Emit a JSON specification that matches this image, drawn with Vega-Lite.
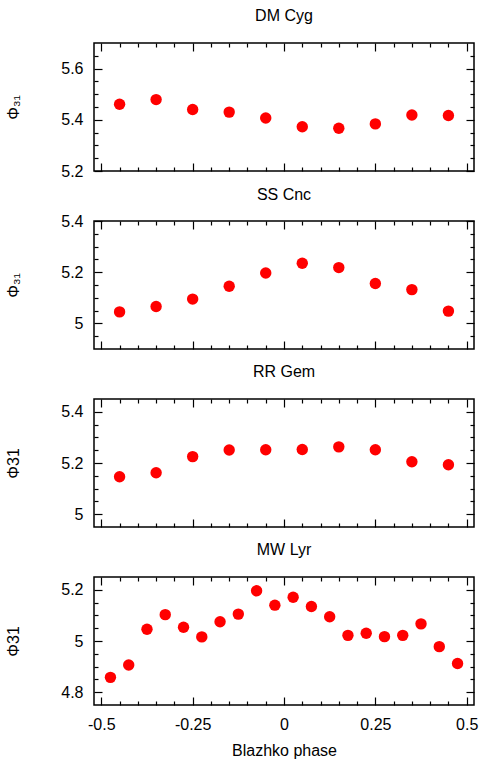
{
  "$schema": "https://vega.github.io/schema/vega-lite/v6.json",
  "background": "white",
  "padding": {"left": 5, "top": 7, "right": 9, "bottom": 2},
  "spacing": 50,
  "bounds": "flush",
  "config": {
    "font": "Liberation Sans",
    "view": {"stroke": "black", "strokeWidth": 1.5},
    "axis": {"domain": false, "grid": false, "labelFontSize": 16, "labelColor": "black", "titleFontSize": 16, "titleFontWeight": "normal", "titleColor": "black", "tickColor": "black", "tickWidth": 1.2, "labelFont": "Liberation Sans", "titleFont": "Liberation Sans"},
    "title": {"fontSize": 16, "fontWeight": "normal", "color": "black", "anchor": "middle", "offset": 18, "font": "Liberation Sans"}
  },
  "data": {"values": [
    {"star": "DM Cyg", "phase": -0.45, "phi31": 5.461},
    {"star": "DM Cyg", "phase": -0.35, "phi31": 5.479},
    {"star": "DM Cyg", "phase": -0.25, "phi31": 5.440},
    {"star": "DM Cyg", "phase": -0.15, "phi31": 5.430},
    {"star": "DM Cyg", "phase": -0.05, "phi31": 5.407},
    {"star": "DM Cyg", "phase": 0.05, "phi31": 5.373},
    {"star": "DM Cyg", "phase": 0.15, "phi31": 5.367},
    {"star": "DM Cyg", "phase": 0.25, "phi31": 5.384},
    {"star": "DM Cyg", "phase": 0.35, "phi31": 5.419},
    {"star": "DM Cyg", "phase": 0.45, "phi31": 5.417},
    {"star": "SS Cnc", "phase": -0.45, "phi31": 5.045},
    {"star": "SS Cnc", "phase": -0.35, "phi31": 5.066},
    {"star": "SS Cnc", "phase": -0.25, "phi31": 5.095},
    {"star": "SS Cnc", "phase": -0.15, "phi31": 5.145},
    {"star": "SS Cnc", "phase": -0.05, "phi31": 5.197},
    {"star": "SS Cnc", "phase": 0.05, "phi31": 5.235},
    {"star": "SS Cnc", "phase": 0.15, "phi31": 5.218},
    {"star": "SS Cnc", "phase": 0.25, "phi31": 5.156},
    {"star": "SS Cnc", "phase": 0.35, "phi31": 5.132},
    {"star": "SS Cnc", "phase": 0.45, "phi31": 5.048},
    {"star": "RR Gem", "phase": -0.45, "phi31": 5.146},
    {"star": "RR Gem", "phase": -0.35, "phi31": 5.162},
    {"star": "RR Gem", "phase": -0.25, "phi31": 5.225},
    {"star": "RR Gem", "phase": -0.15, "phi31": 5.251},
    {"star": "RR Gem", "phase": -0.05, "phi31": 5.252},
    {"star": "RR Gem", "phase": 0.05, "phi31": 5.253},
    {"star": "RR Gem", "phase": 0.15, "phi31": 5.263},
    {"star": "RR Gem", "phase": 0.25, "phi31": 5.252},
    {"star": "RR Gem", "phase": 0.35, "phi31": 5.205},
    {"star": "RR Gem", "phase": 0.45, "phi31": 5.193},
    {"star": "MW Lyr", "phase": -0.475, "phi31": 4.858},
    {"star": "MW Lyr", "phase": -0.425, "phi31": 4.906},
    {"star": "MW Lyr", "phase": -0.375, "phi31": 5.046},
    {"star": "MW Lyr", "phase": -0.325, "phi31": 5.103},
    {"star": "MW Lyr", "phase": -0.275, "phi31": 5.054},
    {"star": "MW Lyr", "phase": -0.225, "phi31": 5.016},
    {"star": "MW Lyr", "phase": -0.175, "phi31": 5.075},
    {"star": "MW Lyr", "phase": -0.125, "phi31": 5.105},
    {"star": "MW Lyr", "phase": -0.075, "phi31": 5.196},
    {"star": "MW Lyr", "phase": -0.025, "phi31": 5.140},
    {"star": "MW Lyr", "phase": 0.025, "phi31": 5.171},
    {"star": "MW Lyr", "phase": 0.075, "phi31": 5.135},
    {"star": "MW Lyr", "phase": 0.125, "phi31": 5.095},
    {"star": "MW Lyr", "phase": 0.175, "phi31": 5.022},
    {"star": "MW Lyr", "phase": 0.225, "phi31": 5.030},
    {"star": "MW Lyr", "phase": 0.275, "phi31": 5.017},
    {"star": "MW Lyr", "phase": 0.325, "phi31": 5.022},
    {"star": "MW Lyr", "phase": 0.375, "phi31": 5.067},
    {"star": "MW Lyr", "phase": 0.425, "phi31": 4.978},
    {"star": "MW Lyr", "phase": 0.475, "phi31": 4.912}
  ]},
  "vconcat": [
    {
      "title": "DM Cyg",
      "width": 380, "height": 128,
      "transform": [{"filter": "datum.star === 'DM Cyg'"}],
      "resolve": {"axis": {"x": "independent", "y": "independent"}},
      "layer": [
        {"mark": {"type": "point", "filled": true, "size": 130, "color": "#ff0000", "opacity": 1},
         "encoding": {
           "x": {"field": "phase", "type": "quantitative", "scale": {"domain": [-0.52, 0.52], "nice": false, "zero": false}, "axis": {"orient": "bottom", "values": [-0.5, -0.25, 0, 0.25, 0.5], "tickSize": -8, "labels": false, "title": null}},
           "y": {"field": "phi31", "type": "quantitative", "scale": {"domain": [5.2, 5.7], "nice": false, "zero": false}, "axis": {"orient": "left", "values": [5.2, 5.4, 5.6], "tickSize": -8, "format": "~g", "labelPadding": 19, "title": "Φ₃₁", "titlePadding": 39}}
         }},
        {"mark": {"type": "point", "opacity": 0},
         "encoding": {
           "x": {"field": "phase", "type": "quantitative", "scale": {"domain": [-0.52, 0.52], "nice": false, "zero": false}, "axis": {"orient": "bottom", "values": [-0.45, -0.4, -0.35, -0.3, -0.2, -0.15, -0.1, -0.05, 0.05, 0.1, 0.15, 0.2, 0.3, 0.35, 0.4, 0.45], "tickSize": -4, "labels": false, "title": null}},
           "y": {"field": "phi31", "type": "quantitative", "scale": {"domain": [5.2, 5.7], "nice": false, "zero": false}, "axis": {"orient": "left", "values": [5.25, 5.3, 5.35, 5.45, 5.5, 5.55, 5.65], "tickSize": -4, "labels": false, "title": null}}
         }},
        {"mark": {"type": "point", "opacity": 0},
         "encoding": {
           "x": {"field": "phase", "type": "quantitative", "scale": {"domain": [-0.52, 0.52], "nice": false, "zero": false}, "axis": {"orient": "top", "values": [-0.5, -0.25, 0, 0.25, 0.5], "tickSize": -8, "labels": false, "title": null}},
           "y": {"field": "phi31", "type": "quantitative", "scale": {"domain": [5.2, 5.7], "nice": false, "zero": false}, "axis": {"orient": "right", "values": [5.2, 5.4, 5.6], "tickSize": -8, "labels": false, "title": null}}
         }},
        {"mark": {"type": "point", "opacity": 0},
         "encoding": {
           "x": {"field": "phase", "type": "quantitative", "scale": {"domain": [-0.52, 0.52], "nice": false, "zero": false}, "axis": {"orient": "top", "values": [-0.45, -0.4, -0.35, -0.3, -0.2, -0.15, -0.1, -0.05, 0.05, 0.1, 0.15, 0.2, 0.3, 0.35, 0.4, 0.45], "tickSize": -4, "labels": false, "title": null}},
           "y": {"field": "phi31", "type": "quantitative", "scale": {"domain": [5.2, 5.7], "nice": false, "zero": false}, "axis": {"orient": "right", "values": [5.25, 5.3, 5.35, 5.45, 5.5, 5.55, 5.65], "tickSize": -4, "labels": false, "title": null}}
         }}
      ]
    },
    {
      "title": {"text": "SS Cnc", "offset": 10},
      "width": 380, "height": 128,
      "transform": [{"filter": "datum.star === 'SS Cnc'"}],
      "resolve": {"axis": {"x": "independent", "y": "independent"}},
      "layer": [
        {"mark": {"type": "point", "filled": true, "size": 130, "color": "#ff0000", "opacity": 1},
         "encoding": {
           "x": {"field": "phase", "type": "quantitative", "scale": {"domain": [-0.52, 0.52], "nice": false, "zero": false}, "axis": {"orient": "bottom", "values": [-0.5, -0.25, 0, 0.25, 0.5], "tickSize": -8, "labels": false, "title": null}},
           "y": {"field": "phi31", "type": "quantitative", "scale": {"domain": [4.9, 5.4], "nice": false, "zero": false}, "axis": {"orient": "left", "values": [5.0, 5.2, 5.4], "tickSize": -8, "format": "~g", "labelPadding": 19, "title": "Φ₃₁", "titlePadding": 39}}
         }},
        {"mark": {"type": "point", "opacity": 0},
         "encoding": {
           "x": {"field": "phase", "type": "quantitative", "scale": {"domain": [-0.52, 0.52], "nice": false, "zero": false}, "axis": {"orient": "bottom", "values": [-0.45, -0.4, -0.35, -0.3, -0.2, -0.15, -0.1, -0.05, 0.05, 0.1, 0.15, 0.2, 0.3, 0.35, 0.4, 0.45], "tickSize": -4, "labels": false, "title": null}},
           "y": {"field": "phi31", "type": "quantitative", "scale": {"domain": [4.9, 5.4], "nice": false, "zero": false}, "axis": {"orient": "left", "values": [4.95, 5.05, 5.1, 5.15, 5.25, 5.3, 5.35], "tickSize": -4, "labels": false, "title": null}}
         }},
        {"mark": {"type": "point", "opacity": 0},
         "encoding": {
           "x": {"field": "phase", "type": "quantitative", "scale": {"domain": [-0.52, 0.52], "nice": false, "zero": false}, "axis": {"orient": "top", "values": [-0.5, -0.25, 0, 0.25, 0.5], "tickSize": -8, "labels": false, "title": null}},
           "y": {"field": "phi31", "type": "quantitative", "scale": {"domain": [4.9, 5.4], "nice": false, "zero": false}, "axis": {"orient": "right", "values": [5.0, 5.2, 5.4], "tickSize": -8, "labels": false, "title": null}}
         }},
        {"mark": {"type": "point", "opacity": 0},
         "encoding": {
           "x": {"field": "phase", "type": "quantitative", "scale": {"domain": [-0.52, 0.52], "nice": false, "zero": false}, "axis": {"orient": "top", "values": [-0.45, -0.4, -0.35, -0.3, -0.2, -0.15, -0.1, -0.05, 0.05, 0.1, 0.15, 0.2, 0.3, 0.35, 0.4, 0.45], "tickSize": -4, "labels": false, "title": null}},
           "y": {"field": "phi31", "type": "quantitative", "scale": {"domain": [4.9, 5.4], "nice": false, "zero": false}, "axis": {"orient": "right", "values": [4.95, 5.05, 5.1, 5.15, 5.25, 5.3, 5.35], "tickSize": -4, "labels": false, "title": null}}
         }}
      ]
    },
    {
      "title": "RR Gem",
      "width": 380, "height": 128,
      "transform": [{"filter": "datum.star === 'RR Gem'"}],
      "resolve": {"axis": {"x": "independent", "y": "independent"}},
      "layer": [
        {"mark": {"type": "point", "filled": true, "size": 130, "color": "#ff0000", "opacity": 1},
         "encoding": {
           "x": {"field": "phase", "type": "quantitative", "scale": {"domain": [-0.52, 0.52], "nice": false, "zero": false}, "axis": {"orient": "bottom", "values": [-0.5, -0.25, 0, 0.25, 0.5], "tickSize": -8, "labels": false, "title": null}},
           "y": {"field": "phi31", "type": "quantitative", "scale": {"domain": [4.95, 5.45], "nice": false, "zero": false}, "axis": {"orient": "left", "values": [5.0, 5.2, 5.4], "tickSize": -8, "format": "~g", "labelPadding": 19, "title": "Φ31", "titlePadding": 39}}
         }},
        {"mark": {"type": "point", "opacity": 0},
         "encoding": {
           "x": {"field": "phase", "type": "quantitative", "scale": {"domain": [-0.52, 0.52], "nice": false, "zero": false}, "axis": {"orient": "bottom", "values": [-0.45, -0.4, -0.35, -0.3, -0.2, -0.15, -0.1, -0.05, 0.05, 0.1, 0.15, 0.2, 0.3, 0.35, 0.4, 0.45], "tickSize": -4, "labels": false, "title": null}},
           "y": {"field": "phi31", "type": "quantitative", "scale": {"domain": [4.95, 5.45], "nice": false, "zero": false}, "axis": {"orient": "left", "values": [5.05, 5.1, 5.15, 5.25, 5.3, 5.35], "tickSize": -4, "labels": false, "title": null}}
         }},
        {"mark": {"type": "point", "opacity": 0},
         "encoding": {
           "x": {"field": "phase", "type": "quantitative", "scale": {"domain": [-0.52, 0.52], "nice": false, "zero": false}, "axis": {"orient": "top", "values": [-0.5, -0.25, 0, 0.25, 0.5], "tickSize": -8, "labels": false, "title": null}},
           "y": {"field": "phi31", "type": "quantitative", "scale": {"domain": [4.95, 5.45], "nice": false, "zero": false}, "axis": {"orient": "right", "values": [5.0, 5.2, 5.4], "tickSize": -8, "labels": false, "title": null}}
         }},
        {"mark": {"type": "point", "opacity": 0},
         "encoding": {
           "x": {"field": "phase", "type": "quantitative", "scale": {"domain": [-0.52, 0.52], "nice": false, "zero": false}, "axis": {"orient": "top", "values": [-0.45, -0.4, -0.35, -0.3, -0.2, -0.15, -0.1, -0.05, 0.05, 0.1, 0.15, 0.2, 0.3, 0.35, 0.4, 0.45], "tickSize": -4, "labels": false, "title": null}},
           "y": {"field": "phi31", "type": "quantitative", "scale": {"domain": [4.95, 5.45], "nice": false, "zero": false}, "axis": {"orient": "right", "values": [5.05, 5.1, 5.15, 5.25, 5.3, 5.35], "tickSize": -4, "labels": false, "title": null}}
         }}
      ]
    },
    {
      "title": "MW Lyr",
      "width": 380, "height": 128,
      "transform": [{"filter": "datum.star === 'MW Lyr'"}],
      "resolve": {"axis": {"x": "independent", "y": "independent"}},
      "layer": [
        {"mark": {"type": "point", "filled": true, "size": 130, "color": "#ff0000", "opacity": 1},
         "encoding": {
           "x": {"field": "phase", "type": "quantitative", "scale": {"domain": [-0.52, 0.52], "nice": false, "zero": false}, "axis": {"orient": "bottom", "values": [-0.5, -0.25, 0, 0.25, 0.5], "tickSize": -8, "labelExpr": "replace(format(datum.value, '~g'), '\u2212', '-')", "labelPadding": 19, "title": "Blazhko phase", "titlePadding": 10}},
           "y": {"field": "phi31", "type": "quantitative", "scale": {"domain": [4.75, 5.25], "nice": false, "zero": false}, "axis": {"orient": "left", "values": [4.8, 5.0, 5.2], "tickSize": -8, "format": "~g", "labelPadding": 19, "title": "Φ31", "titlePadding": 39}}
         }},
        {"mark": {"type": "point", "opacity": 0},
         "encoding": {
           "x": {"field": "phase", "type": "quantitative", "scale": {"domain": [-0.52, 0.52], "nice": false, "zero": false}, "axis": {"orient": "bottom", "values": [-0.45, -0.4, -0.35, -0.3, -0.2, -0.15, -0.1, -0.05, 0.05, 0.1, 0.15, 0.2, 0.3, 0.35, 0.4, 0.45], "tickSize": -4, "labels": false, "title": null}},
           "y": {"field": "phi31", "type": "quantitative", "scale": {"domain": [4.75, 5.25], "nice": false, "zero": false}, "axis": {"orient": "left", "values": [4.85, 4.9, 4.95, 5.05, 5.1, 5.15], "tickSize": -4, "labels": false, "title": null}}
         }},
        {"mark": {"type": "point", "opacity": 0},
         "encoding": {
           "x": {"field": "phase", "type": "quantitative", "scale": {"domain": [-0.52, 0.52], "nice": false, "zero": false}, "axis": {"orient": "top", "values": [-0.5, -0.25, 0, 0.25, 0.5], "tickSize": -8, "labels": false, "title": null}},
           "y": {"field": "phi31", "type": "quantitative", "scale": {"domain": [4.75, 5.25], "nice": false, "zero": false}, "axis": {"orient": "right", "values": [4.8, 5.0, 5.2], "tickSize": -8, "labels": false, "title": null}}
         }},
        {"mark": {"type": "point", "opacity": 0},
         "encoding": {
           "x": {"field": "phase", "type": "quantitative", "scale": {"domain": [-0.52, 0.52], "nice": false, "zero": false}, "axis": {"orient": "top", "values": [-0.45, -0.4, -0.35, -0.3, -0.2, -0.15, -0.1, -0.05, 0.05, 0.1, 0.15, 0.2, 0.3, 0.35, 0.4, 0.45], "tickSize": -4, "labels": false, "title": null}},
           "y": {"field": "phi31", "type": "quantitative", "scale": {"domain": [4.75, 5.25], "nice": false, "zero": false}, "axis": {"orient": "right", "values": [4.85, 4.9, 4.95, 5.05, 5.1, 5.15], "tickSize": -4, "labels": false, "title": null}}
         }}
      ]
    }
  ]
}
